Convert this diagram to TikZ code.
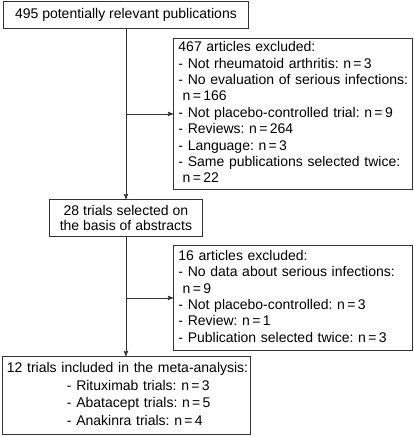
\documentclass[tikz,border=0pt]{standalone}
\usepackage{fontspec}
\setmainfont{Liberation Sans}
\frenchspacing
\usetikzlibrary{arrows}

\tikzset{
    flowbox/.style = {rectangle,
                      draw = black!80,
                      line width = 0.9pt,
                      anchor = north west,
                      inner ysep = 0pt},
    looselines/.style = {font = \fontsize{14pt}{16.4pt}\selectfont},
    tightlines/.style = {font = \fontsize{14pt}{15pt}\selectfont},
    midlines/.style = {font = \fontsize{14pt}{17.5pt}\selectfont}
}

\begin{document}
\begin{tikzpicture}[->,>=stealth']

    \useasboundingbox (0pt,0pt) rectangle (413pt,-437pt);

    \node[flowbox,
          tightlines,
          align = center,
          minimum width = 245pt,
          minimum height = 27pt
          ] (pub) at (3pt,-1pt) {495 potentially relevant publications};

    \node[flowbox,
          looselines,
          align = left,
          inner xsep = 5pt,
          text width = 229pt,
          minimum height = 151pt
          ] (excl1) at (173pt,-38pt) {\begin{tabular}{@{}l@{}}
        467 articles excluded:\\
        - Not rheumatoid arthritis: n\,=\,3\\
        - No evaluation of serious infections:\\
        \hspace*{0.3em}n\,=\,166\\
        - Not placebo-controlled trial: n\,=\,9\\
        - Reviews: n\,=\,264\\
        - Language: n\,=\,3\\
        - Same publications selected twice:\\
        \hspace*{0.3em}n\,=\,22
        \end{tabular}};

    \node[flowbox,
          tightlines,
          align = center,
          minimum width = 153pt,
          minimum height = 37pt
          ] (sel) at (49pt,-199pt) {28 trials selected on\\the basis of abstracts};

    \node[flowbox,
          looselines,
          align = left,
          inner xsep = 5pt,
          text width = 229pt,
          minimum height = 105pt
          ] (excl2) at (173pt,-245pt) {\begin{tabular}{@{}l@{}}
        16 articles excluded:\\
        - No data about serious infections:\\
        \hspace*{0.3em}n\,=\,9\\
        - Not placebo-controlled: n\,=\,3\\
        - Review: n\,=\,1\\
        - Publication selected twice: n\,=\,3
        \end{tabular}};

    \node[flowbox,
          midlines,
          align = left,
          inner xsep = 5pt,
          text width = 238pt,
          minimum height = 78pt
          ] (incl) at (1.5pt,-356pt) {\begin{tabular}{@{}l@{}}
        12 trials included in the meta-analysis:\\
        \hspace*{60pt}- Rituximab trials: n\,=\,3\\
        \hspace*{60pt}- Abatacept trials: n\,=\,5\\
        \hspace*{60pt}- Anakinra trials: n\,=\,4
        \end{tabular}};

    \coordinate (fork1) at (pub.south |- excl1.west);
    \coordinate (fork2) at (sel.south |- excl2.west);

    \path[black!80, line width = 0.9pt]
    %main line
    (pub.south) edge [] (sel.north)
    (sel.south) edge [] (incl.north -| sel.south)
    %side branches
    (fork1) edge [] (excl1.west)
    (fork2) edge [] (excl2.west);

\end{tikzpicture}
\end{document}
